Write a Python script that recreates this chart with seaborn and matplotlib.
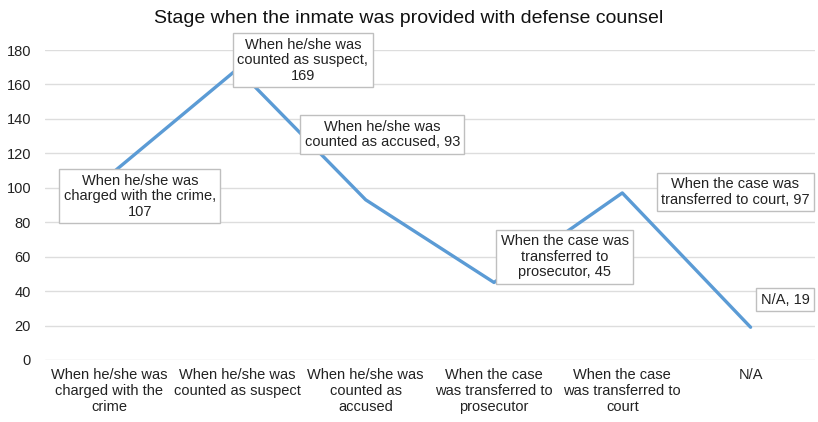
import numpy as np
import pandas as pd
import matplotlib
matplotlib.use("Agg")
import matplotlib.pyplot as plt
import seaborn as sns

stages = ["When he/she was\ncharged with the\ncrime",
          "When he/she was\ncounted as suspect",
          "When he/she was\ncounted as\naccused",
          "When the case\nwas transferred to\nprosecutor",
          "When the case\nwas transferred to\ncourt",
          "N/A"]
counts = [107, 169, 93, 45, 97, 19]
point_labels = ["When he/she was\ncharged with the crime,\n107",
                "When he/she was\ncounted as suspect,\n169",
                "When he/she was\ncounted as accused, 93",
                "When the case was\ntransferred to\nprosecutor, 45",
                "When the case was\ntransferred to court, 97",
                "N/A, 19"]
# where each label box sits (category index, value)
label_pos = [(0.24, 95), (1.51, 174), (2.13, 131), (3.55, 60), (4.88, 97.5), (5.27, 35)]

sns.set_style("white")
plt.rcParams['font.family'] = ['Liberation Sans', 'DejaVu Sans']

df = pd.DataFrame({"pos": np.arange(len(stages)), "count": counts})

fig = plt.figure(figsize=(8.18, 4.22), dpi=100)
ax = fig.add_axes([0.055, 0.147, 0.941, 0.7345])
sns.lineplot(data=df, x="pos", y="count", ax=ax, color="#5B9BD5", linewidth=2.4, zorder=3)

ax.set_xlim(-0.5, len(stages) - 0.5)
ax.set_ylim(0, 180)
ax.set_yticks(range(0, 181, 20))
ax.set_xticks(df["pos"])
ax.set_xticklabels(stages, fontsize=10.5, color="#222222", linespacing=1.15)
ax.tick_params(axis="y", labelsize=10.5, labelcolor="#222222", length=0, pad=10)
ax.tick_params(axis="x", length=0, pad=6)
ax.yaxis.grid(True, color="#DDDDDD", linewidth=1)
for s in ax.spines.values():
    s.set_visible(False)
ax.set_xlabel("")
ax.set_ylabel("")

for (lx, ly), txt in zip(label_pos, point_labels):
    ax.text(lx, ly, txt, ha="center", va="center", fontsize=10.5, color="#222222",
            linespacing=1.15, zorder=5, clip_on=False,
            bbox=dict(boxstyle="square,pad=0.3", fc="white", ec="#BFBFBF", lw=1))

fig.text(0.5, 0.957, "Stage when the inmate was provided with defense counsel",
         ha="center", va="center", fontsize=14, color="#111111")

fig.savefig("out.png", dpi=100)
